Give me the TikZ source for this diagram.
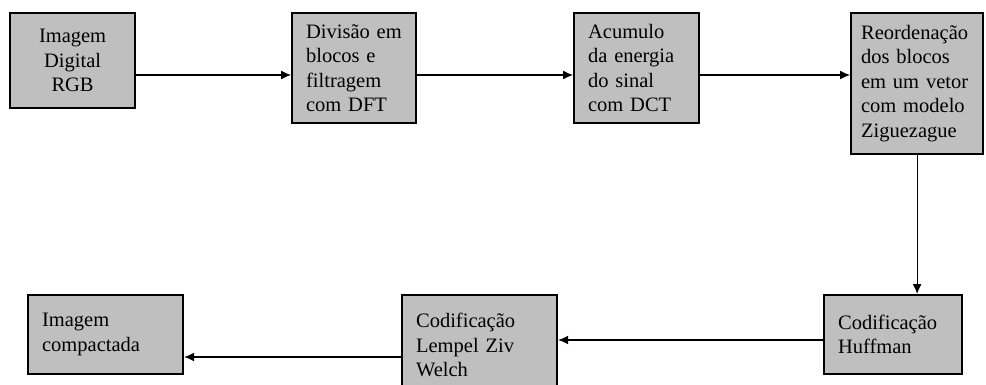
\documentclass[tikz,border=0pt]{standalone}
\usepackage{fontspec}
\setmainfont{Liberation Serif}
\usetikzlibrary{arrows.meta}

\tikzset{
  blk/.style={draw, line width=2.2pt, fill=gray!50, anchor=north west,
    inner xsep=14pt, inner ysep=4pt, align=left,
    font=\fontsize{20.5}{24.5}\selectfont},
  flow/.style={line width=1.2pt, -{Latex[length=10pt,width=9pt]}}
}

\begin{document}
\begin{tikzpicture}[x=1pt, y=-1pt]
        \useasboundingbox (0,0) rectangle (986,385);
        \node[blk, text width=97pt, minimum height=95pt, align=center] (rgb) at (9,12) {Imagem\\Digital\\RGB};
        \node[blk, text width=96pt, minimum height=110pt] (dft) at (291,12) {Divisão em\\blocos e\\filtragem\\com DFT};
        \node[blk, text width=97pt, minimum height=110pt] (dct) at (573,12) {Acumulo\\da energia\\do sinal\\com DCT};
        \node[blk, text width=112pt, inner xsep=10pt, minimum height=141pt] (zig) at (850,12) {Reordenação\\dos blocos\\em um vetor\\com modelo\\Ziguezague};
        \node[blk, text width=110pt, minimum height=79pt] (huff) at (823,294) {Codificação\\Huffman};
        \node[blk, text width=127pt, minimum height=100pt] (lzw) at (401,294) {Codificação\\Lempel Ziv\\Welch};
        \node[blk, text width=127pt, minimum height=79pt] (comp) at (27,294) {Imagem\\compactada};
        \coordinate (row1) at (0,75);
        \coordinate (row2) at (0,340);
        \coordinate (row3) at (0,357);
        \draw[flow] (rgb.east |- row1) -- (dft.west |- row1);
        \draw[flow] (dft.east |- row1) -- (dct.west |- row1);
        \draw[flow] (dct.east |- row1) -- (zig.west |- row1);
        \draw[flow] (zig.south) -- (zig.south |- huff.north);
        \draw[flow] (huff.west |- row2) -- (lzw.east |- row2);
        \draw[flow] (lzw.west |- row3) -- (comp.east |- row3);
    \end{tikzpicture}
\end{document}
